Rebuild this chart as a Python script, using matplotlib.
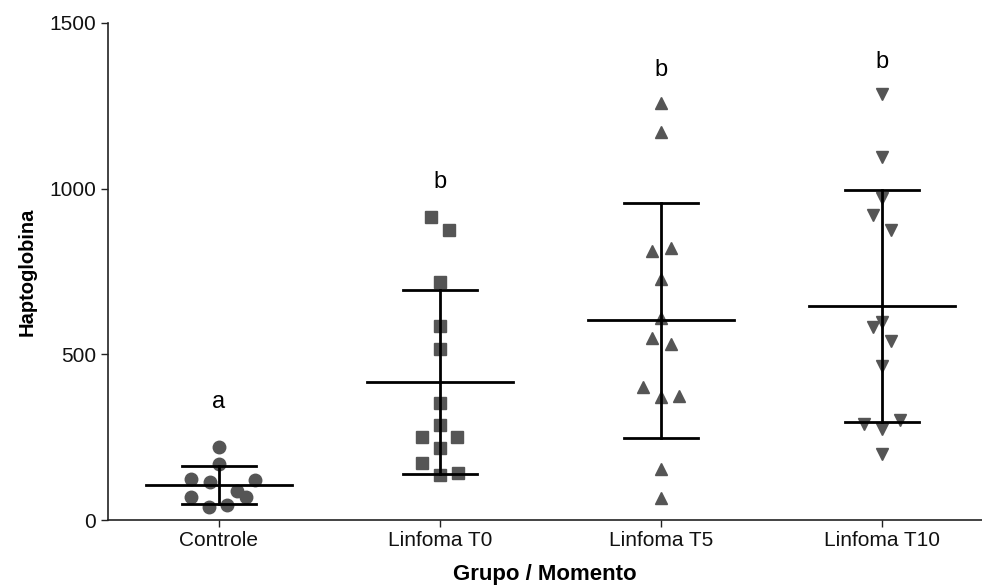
import numpy as np
import matplotlib.pyplot as plt

plt.rcParams['font.family'] = ['Liberation Sans', 'DejaVu Sans']

# --- Data: haptoglobin per group ---
groups = ["Controle", "Linfoma T0", "Linfoma T5", "Linfoma T10"]

controle = [221, 169, 123, 115, 121, 88, 70, 68, 40, 45]
linf_t0 = [915, 875, 717, 586, 515, 352, 287, 250, 250, 218, 171, 136, 143]
linf_t5 = [1258, 1172, 812, 822, 726, 609, 548, 530, 402, 370, 374, 153, 65]
linf_t10 = [1285, 1097, 971, 919, 875, 599, 582, 540, 465, 290, 274, 302, 198]

# horizontal scatter offsets (in category units)
off_controle = [0, 0, -0.124, -0.041, 0.163, 0.081, 0.122, -0.124, -0.045, 0.039]
off_t0 = [-0.038, 0.041, 0, 0, 0, 0, 0, -0.081, 0.080, 0, -0.081, 0, 0.081]
off_t5 = [0, 0, -0.041, 0.044, 0, 0, -0.041, 0.044, -0.081, 0, 0.081, 0, 0]
off_t10 = [0, 0, 0, -0.041, 0.041, 0, -0.041, 0.041, 0, -0.080, 0, 0.081, 0]

letters = ["a", "b", "b", "b"]
letter_y = [357, 1021, 1358, 1382]

values = [controle, linf_t0, linf_t5, linf_t10]
offsets = [off_controle, off_t0, off_t5, off_t10]
markers = ['o', 's', '^', 'v']
msizes = [9, 8, 8.5, 8.5]

PT_COLOR = '#555555'
MEAN_HW = 0.33   # half width of mean line
CAP_HW = 0.167   # half width of SD caps

fig = plt.figure(figsize=(9.82, 5.86), dpi=100)
ax = fig.add_axes([0.110, 0.1126, 0.890, 0.8482])

for i, (vals, offs) in enumerate(zip(values, offsets)):
    v = np.array(vals, dtype=float)
    x = i + np.array(offs)
    ax.plot(x, v, linestyle='none', marker=markers[i], ms=msizes[i],
            color=PT_COLOR, mec=PT_COLOR, zorder=2)

    # mean +/- SD
    m = v.mean()
    sd = v.std(ddof=1)
    ax.plot([i - MEAN_HW, i + MEAN_HW], [m, m], color='black', lw=2, zorder=3)
    ax.plot([i, i], [m - sd, m + sd], color='black', lw=2, zorder=3)
    for yy in (m - sd, m + sd):
        ax.plot([i - CAP_HW, i + CAP_HW], [yy, yy], color='black', lw=2, zorder=3)

    ax.text(i, letter_y[i], letters[i], ha='center', va='center', fontsize=17,
            color='black')

ax.set_xlim(-0.5, 3.452)
ax.set_ylim(0, 1500)
ax.set_xticks(range(len(groups)))
ax.set_xticklabels(groups)
ax.set_yticks([0, 500, 1000, 1500])

for s in ('top', 'right'):
    ax.spines[s].set_visible(False)
for s in ('left', 'bottom'):
    ax.spines[s].set_linewidth(1.2)
    ax.spines[s].set_color('#222222')

ax.tick_params(axis='both', direction='out', length=5, width=1, color='#222222',
               labelsize=15, labelcolor='#111111')
ax.tick_params(axis='x', pad=3)

ax.set_ylabel("Haptoglobina", fontsize=14.5, fontweight='bold', labelpad=9)
ax.set_xlabel("Grupo / Momento", fontsize=16, fontweight='bold', labelpad=10)

fig.savefig("out.png", dpi=100, facecolor='white')
